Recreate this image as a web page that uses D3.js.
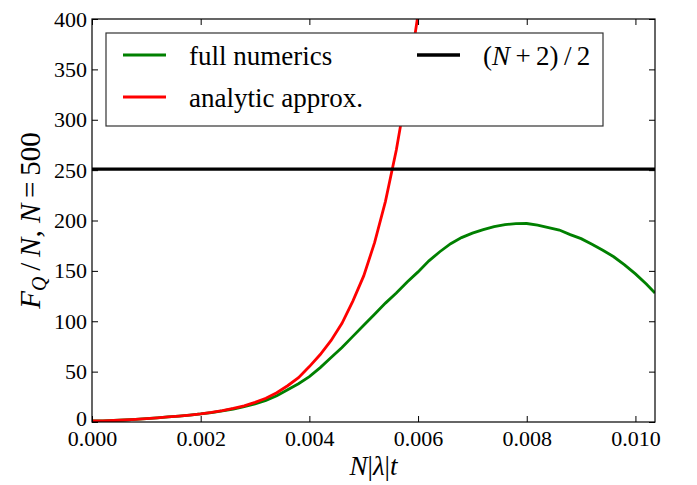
<!DOCTYPE html>
<html>
<head>
<meta charset="utf-8">
<script src="https://cdn.jsdelivr.net/npm/d3@7"></script>
</head>
<body style="margin:0">
<script>
// x values: N|lambda|t
var xs = [0, 0.0002, 0.0004, 0.0006, 0.0008, 0.001, 0.0012, 0.0014, 0.0016, 0.0018,
          0.002, 0.0022, 0.0024, 0.0026, 0.0028, 0.003, 0.0032, 0.0034, 0.0036, 0.0038,
          0.004, 0.0042, 0.0044, 0.0046, 0.0048, 0.005, 0.0052, 0.0054, 0.0056, 0.0058,
          0.006, 0.0062, 0.0064, 0.0066, 0.0068, 0.007, 0.0072, 0.0074, 0.0076, 0.0078,
          0.008, 0.0082, 0.0084, 0.0086, 0.0088, 0.009, 0.0092, 0.0094, 0.0096, 0.0098,
          0.010, 0.0102, 0.01036];

// full numerics (green)
var fullNumerics = [1, 1.2, 1.5, 2, 2.6, 3.3, 4.1, 5, 5.9, 6.9,
                    8, 9.4, 11, 12.9, 15.2, 18, 21.5, 26, 32, 38,
                    45, 54, 64, 74, 85, 96, 107, 118, 128, 139,
                    149, 160, 169, 177, 183, 187.5, 191, 194, 196, 196.8,
                    197, 195.5, 193, 190.5, 186, 182, 176.5, 170.5, 164, 156,
                    147, 137, 128];

// analytic approx. (red), only up to where it leaves the plot
var analyticX = xs.slice(0, 32);
var analytic = [1, 1.2, 1.5, 2, 2.6, 3.3, 4.1, 5, 5.9, 6.9,
                8, 9.5, 11.3, 13.5, 16, 19.5, 23.5, 29, 36, 44,
                55, 67, 81, 98, 120, 145, 178, 219, 270, 332,
                405, 490];

var N = 500;
var hline = (N + 2) / 2;

var xTicks = [0, 0.002, 0.004, 0.006, 0.008, 0.010];
var yTicks = [0, 50, 100, 150, 200, 250, 300, 350, 400];

var serif = "'Liberation Serif'";

var width = 697, height = 485;
var margin = {left: 92, top: 19, right: 42, bottom: 63};
var pw = width - margin.left - margin.right;
var ph = height - margin.top - margin.bottom;

var svg = d3.select("body").append("svg")
    .style("display", "block")
    .attr("width", width)
    .attr("height", height);

var x = d3.scaleLinear().domain([0, 0.01036]).range([0, pw]);
var y = d3.scaleLinear().domain([0, 400]).range([ph, 0]);

svg.append("defs").append("clipPath").attr("id", "clip")
    .append("rect").attr("width", pw).attr("height", ph);

var g = svg.append("g").attr("transform", "translate(" + margin.left + "," + margin.top + ")");

var line = d3.line().x(function(d) { return x(d[0]); }).y(function(d) { return y(d[1]); });

var plot = g.append("g").attr("clip-path", "url(#clip)");

plot.append("path")
    .attr("d", line(xs.map(function(v, i) { return [v, fullNumerics[i]]; })))
    .attr("fill", "none").attr("stroke", "#008000").attr("stroke-width", 2.8);

plot.append("path")
    .attr("d", line(analyticX.map(function(v, i) { return [v, analytic[i]]; })))
    .attr("fill", "none").attr("stroke", "#ff0000").attr("stroke-width", 2.8);

plot.append("line")
    .attr("x1", 0).attr("x2", pw)
    .attr("y1", y(hline)).attr("y2", y(hline))
    .attr("stroke", "#000").attr("stroke-width", 3.4);

// axes, ticks pointing inward
var xAxis = g.append("g").attr("transform", "translate(0," + ph + ")")
    .call(d3.axisBottom(x).tickValues(xTicks).tickFormat(d3.format(".3f"))
          .tickSizeInner(-6).tickSizeOuter(0).tickPadding(8));
var xTop = g.append("g")
    .call(d3.axisTop(x).tickValues(xTicks).tickFormat("")
          .tickSizeInner(-6).tickSizeOuter(0));
var yAxis = g.append("g")
    .call(d3.axisLeft(y).tickValues(yTicks).tickFormat(d3.format("d"))
          .tickSizeInner(-6).tickSizeOuter(0).tickPadding(5));
var yRight = g.append("g").attr("transform", "translate(" + pw + ",0)")
    .call(d3.axisRight(y).tickValues(yTicks).tickFormat("")
          .tickSizeInner(-6).tickSizeOuter(0));

[xAxis, xTop, yAxis, yRight].forEach(function(a) {
    a.attr("font-family", null).attr("font-size", null);
    a.select(".domain").remove();
    a.selectAll("line").attr("stroke", "#000");
    a.selectAll("text")
        .style("font-family", serif).style("font-size", "22px")
        .attr("fill", "#000");
});
// the "0" on the y axis sits a little above its tick so it clears "0.000"
yAxis.selectAll("text").filter(function(d) { return d === 0; }).attr("dy", "0.15em");

g.append("rect")
    .attr("width", pw).attr("height", ph)
    .attr("fill", "none").attr("stroke", "#000").attr("stroke-width", 1.2);

// legend
var legend = g.append("g").attr("transform", "translate(14,14)");
legend.append("rect")
    .attr("width", 497).attr("height", 93)
    .attr("fill", "#fff").attr("stroke", "#333").attr("stroke-width", 1.2);

var legendItems = [
    {label: "full numerics", color: "#008000", col: 0, row: 0},
    {label: "analytic approx.", color: "#ff0000", col: 0, row: 1},
    {label: null, color: "#000", col: 1, row: 0}
];
var colX = [17, 311];
legendItems.forEach(function(d) {
    var cx = colX[d.col], cy = 22 + d.row * 42;
    legend.append("line")
        .attr("x1", cx).attr("x2", cx + 43)
        .attr("y1", cy).attr("y2", cy)
        .attr("stroke", d.color).attr("stroke-width", d.col === 1 ? 3.4 : 2.8);
    var t = legend.append("text")
        .attr("x", cx + 66).attr("y", cy + 10)
        .style("font-family", serif).style("font-size", "27px");
    if (d.label) {
        t.text(d.label);
    } else {
        t.append("tspan").text("(");
        t.append("tspan").style("font-style", "italic").text("N");
        t.append("tspan").text("\u2009+\u20092)\u2009/\u20092");
    }
});

// y label
var yl = svg.append("text")
    .attr("transform", "translate(40," + (margin.top + ph / 2) + ") rotate(-90)")
    .attr("text-anchor", "middle")
    .style("font-family", serif).style("font-size", "29px");
yl.append("tspan").style("font-style", "italic").text("F");
yl.append("tspan").style("font-style", "italic").style("font-size", "20px").attr("dy", 6).text("Q");
yl.append("tspan").attr("dy", -6).text("\u2009/\u2009");
yl.append("tspan").style("font-style", "italic").text("N");
yl.append("tspan").text(", ");
yl.append("tspan").style("font-style", "italic").text("N");
yl.append("tspan").text("\u2009=\u2009" + N);

// x label: html line pulled up into the bottom strip of the svg (kept in flow)
var xl = d3.select("body").append("div")
    .style("margin-top", "-32px")
    .style("margin-left", (margin.left + pw / 2 - 150) + "px")
    .style("width", "300px")
    .style("height", "32px")
    .style("text-align", "center")
    .style("font-family", serif)
    .style("font-size", "27px")
    .style("line-height", "27px")
    .style("white-space", "nowrap");
xl.append("i").text("N");
xl.append("span").text("|");
xl.append("i").text("\u03bb");
xl.append("span").text("|");
xl.append("i").text("t");
</script>
</body>
</html>
